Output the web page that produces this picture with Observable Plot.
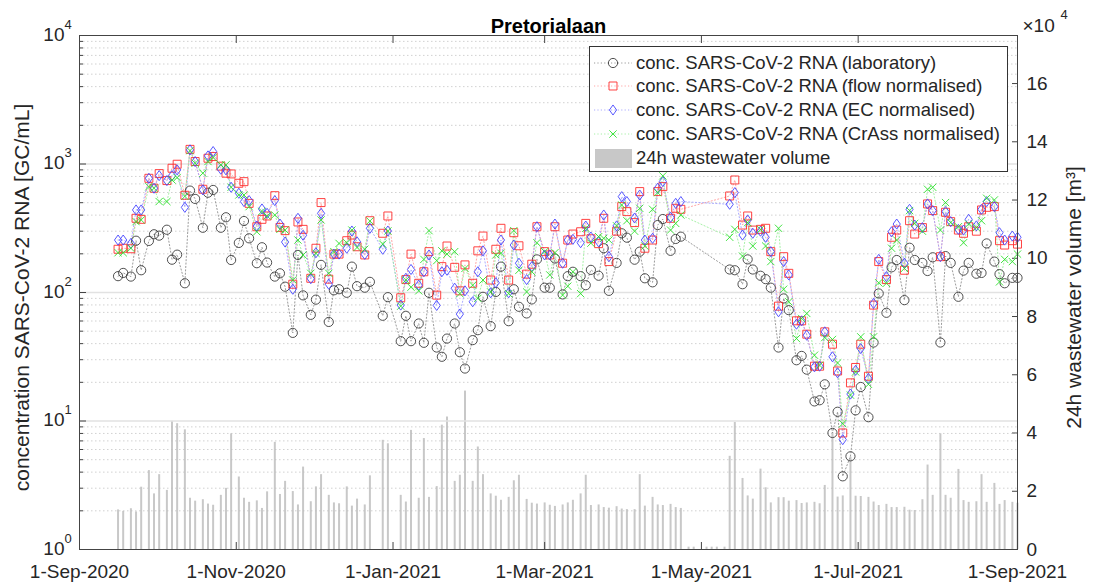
<!DOCTYPE html>
<html>
<head>
<meta charset="utf-8">
<script src="https://cdn.jsdelivr.net/npm/d3@7"></script>
<script src="https://cdn.jsdelivr.net/npm/@observablehq/plot@0.6"></script>
<style>
  html,body{margin:0;padding:0;background:#fff;}
  #chart{position:relative;width:1093px;height:584px;overflow:hidden;font-family:"Liberation Sans",Arial,Helvetica,sans-serif;color:#262626;}
  #chart > svg{position:absolute;left:0;top:0;}
  #legend{position:absolute;left:589px;top:46px;width:417px;height:124px;background:#fff;border:1px solid #333;font-size:18.5px;}
  .row{position:absolute;left:0;height:24px;display:flex;align-items:center;white-space:nowrap;}
  .row svg{display:block;margin-left:3px;margin-right:3px;}
</style>
</head>
<body>
<div id="chart"></div>
<script>
// ---------- data ----------
const dates = [
"2020-09-16","2020-09-18","2020-09-21","2020-09-23","2020-09-25","2020-09-28","2020-09-30",
"2020-10-02","2020-10-05","2020-10-07","2020-10-09","2020-10-12","2020-10-14","2020-10-16","2020-10-19","2020-10-21","2020-10-23","2020-10-26","2020-10-28","2020-10-30",
"2020-11-02","2020-11-04","2020-11-06","2020-11-09","2020-11-11","2020-11-13","2020-11-16","2020-11-18","2020-11-20","2020-11-23","2020-11-25","2020-11-27","2020-11-30",
"2020-12-02","2020-12-04","2020-12-07","2020-12-09","2020-12-11","2020-12-14","2020-12-16","2020-12-18","2020-12-21","2020-12-23","2020-12-28","2020-12-30",
"2021-01-04","2021-01-06","2021-01-08","2021-01-11","2021-01-13","2021-01-15","2021-01-18","2021-01-20","2021-01-22","2021-01-25","2021-01-27","2021-01-29",
"2021-02-01","2021-02-03","2021-02-05","2021-02-08","2021-02-10","2021-02-12","2021-02-15","2021-02-17","2021-02-19","2021-02-22","2021-02-24","2021-02-26",
"2021-03-01","2021-03-03","2021-03-05","2021-03-08","2021-03-10","2021-03-12","2021-03-15","2021-03-17","2021-03-19","2021-03-22","2021-03-24","2021-03-26","2021-03-29","2021-03-31",
"2021-04-02","2021-04-05","2021-04-07","2021-04-09","2021-04-12","2021-04-14","2021-04-16","2021-04-19","2021-04-21","2021-04-23","2021-04-26","2021-04-28",
"2021-05-03","2021-05-05","2021-05-07","2021-05-10","2021-05-12","2021-05-14","2021-05-17","2021-05-19","2021-05-21","2021-05-24","2021-05-26","2021-05-28","2021-05-31",
"2021-06-02","2021-06-04","2021-06-07","2021-06-09","2021-06-11","2021-06-14","2021-06-16","2021-06-18","2021-06-21","2021-06-23","2021-06-25","2021-06-28","2021-06-30",
"2021-07-02","2021-07-05","2021-07-07","2021-07-09","2021-07-12","2021-07-14","2021-07-16","2021-07-19","2021-07-21","2021-07-23","2021-07-26","2021-07-28","2021-07-30",
"2021-08-02","2021-08-04","2021-08-06","2021-08-09","2021-08-11","2021-08-13","2021-08-16","2021-08-18","2021-08-20","2021-08-23","2021-08-25","2021-08-27","2021-08-30","2021-09-01"
];
// 24h wastewater volume, x10^4 m3
const volume = [
1.36,1.31,1.40,1.29,2.14,2.71,1.91,
2.57,2.03,4.40,4.32,4.11,1.76,1.66,1.71,1.56,1.52,1.86,2.10,3.97,
2.49,1.76,1.62,1.67,1.41,1.98,3.68,1.89,2.34,1.99,1.53,2.83,1.64,
2.15,2.57,1.86,1.60,1.57,2.15,1.49,1.73,1.53,2.53,3.75,3.63,
1.86,1.63,4.09,1.76,3.81,1.79,2.16,4.27,4.55,2.34,2.55,5.44,
2.34,3.52,2.57,1.91,1.83,1.69,1.79,2.36,2.55,1.72,1.59,1.56,
1.60,1.52,1.48,1.53,1.60,1.69,1.91,2.55,1.51,1.53,1.44,1.42,1.47,1.39,
1.37,1.37,2.57,1.49,1.79,1.53,1.51,1.55,1.44,1.41,0.08,0.08,
0.08,0.08,0.08,0.08,3.20,4.36,2.44,1.84,1.73,2.76,2.12,1.60,1.78,
1.78,1.66,1.68,1.58,1.60,1.62,1.57,2.20,4.00,1.80,1.84,3.17,1.83,
1.82,1.79,1.63,1.51,1.55,1.44,1.44,1.45,1.35,1.34,1.71,2.90,1.86,
3.97,1.86,1.76,2.75,1.68,1.62,1.64,2.57,1.62,2.27,1.55,1.68,1.62,1.59
];
// concentration, GC/mL
const labConc = [
134,142,133,253,149,252,284,
277,308,180,197,118,621,535,319,598,628,319,385,179,
243,360,264,169,225,171,133,141,111,48.5,196,95,67,
88,164,59,104,106,99.5,159,112,109,121,65.9,92,
41.8,65.9,41.8,57.4,40.6,99.5,37.3,31.6,43.8,57.4,34.3,25.6,
42.6,50.9,92.6,54.7,101,159,59.8,106,77.4,68.7,88.3,181,
109,109,184,96.6,134,145,134,114,150,135,221,103,170,289,
267,180,208,129,120,335,373,211,261,272,null,null,
null,null,null,null,151,149,116,181,151,135,127,109,37.3,
89.9,72.9,29.7,32.1,25.1,14.2,14.5,19.3,8.07,11.8,3.71,5.31,12.1,
18.4,10.7,40.8,98.3,69.5,157,179,87.2,223,179,170,147,188,
40.8,192,170,92.6,148,170,140,142,241,174,139,118,130,130
];
const flowConc = [
217,221,219,378,371,774,648,
842,743,927,996,571,1300,1045,636,1109,1143,962,848,837,
708,729,494,325,371,394,567,321,303,116,354,310,129,
221,501,127,199,199,253,280,227,196,362,289,394,
91,126,199,118,145,208,95.4,159,230,157,103,164,
118,211,275,125,217,316,125,292,231,139,166,325,
208,196,325,169,256,285,297,345,262,240,378,174,300,466,
426,350,610,221,256,610,667,378,452,444,null,null,
null,null,null,null,564,751,335,394,306,310,316,208,78.3,
190,141,60.2,60.2,47.4,26.7,26.7,49.4,39.6,24.5,8.07,19.8,26.1,
39.6,22.3,79.8,174,126,269,306,149,362,285,320,489,434,
190,421,356,306,289,325,300,439,460,466,253,234,253,238
];
const ecConc = [
256,256,241,439,439,774,648,
812,743,812,900,460,1288,1045,629,1156,1250,911,900,659,
592,510,519,329,447,413,519,341,247,106,378,279,128,
204,413,116,199,199,221,301,248,198,316,217,301,
79.8,129,151,114,145,196,79.3,145,149,108,67.9,103,
84.7,145,211,99.5,119,256,99.5,234,169,126,159,325,
196,196,341,169,256,259,244,329,270,248,401,190,330,557,
510,380,574,256,264,648,730,385,494,510,null,null,
null,null,null,null,486,599,280,367,289,300,269,208,70.8,
174,137,56.7,60.2,46.5,26.4,26.7,49.4,31.6,23.7,7.16,16.2,24.8,
36.6,21.4,82.2,181,133,297,341,169,444,335,320,489,434,
190,426,356,310,306,371,330,444,510,466,292,256,275,269
];
const crassConc = [
204,204,221,356,367,666,648,
510,510,751,784,560,1270,1014,848,1045,1122,984,984,659,
574,574,466,297,428,394,401,310,306,125,256,196,141,
202,367,141,208,241,244,306,224,217,360,238,301,
78.3,125,110,103,181,303,177,211,199,208,98,154,
114,90,125,101,196,202,98,303,149,101,145,244,
208,137,204,95.4,112,145,98,316,242,272,264,256,330,480,
362,300,452,230,444,599,808,306,345,401,null,null,
null,null,null,null,269,310,192,350,230,310,230,174,316,
106,84.7,43.8,62.8,68.7,32.5,27.2,44.6,43.1,28.3,9.54,15.9,24.1,
45.2,19.3,45.2,119,118,221,256,154,434,345,300,636,659,
306,501,350,325,244,341,320,362,541,525,121,181,174,199
];

// ---------- axes / labels ----------
const xTicks = ["2020-09-01","2020-11-01","2021-01-01","2021-03-01","2021-05-01","2021-07-01","2021-09-01"];
const xTickLabels = ["1-Sep-2020","1-Nov-2020","1-Jan-2021","1-Mar-2021","1-May-2021","1-Jul-2021","1-Sep-2021"];
const leftTicks = [1,10,100,1000,10000];
const leftTickBase = "10";
const leftTickExponents = ["0","1","2","3","4"];
const minorTicks = [2,3,4,5,6,7,8,9,20,30,40,50,60,70,80,90,200,300,400,500,600,700,800,900,2000,3000,4000,5000,6000,7000,8000,9000];
const majorGrid = [10,100,1000];
const rightTicks = [0,2,4,6,8,10,12,14,16];
const rightMax = 17.65;
const rightMultiplier = "\u00D710";
const rightMultiplierExp = "4";
const titleText = "Pretorialaan";
const leftLabel = "concentration SARS-CoV-2 RNA [GC/mL]";
const rightLabel = "24h wastewater volume [m\u00B3]";
const seriesNames = [
  "conc. SARS-CoV-2 RNA (laboratory)",
  "conc. SARS-CoV-2 RNA (flow normalised)",
  "conc. SARS-CoV-2 RNA (EC normalised)",
  "conc. SARS-CoV-2 RNA (CrAss normalised)"
];
const volumeName = "24h wastewater volume";

// ---------- build ----------
const utc = s => new Date(s + "T00:00:00Z");
const rows = dates.map((d, i) => ({date: utc(d), volume: volume[i], lab: labConc[i], flow: flowConc[i], ec: ecConc[i], crass: crassConc[i]}));
const xDomain = [utc("2020-09-01"), utc("2021-09-01")];
const xTickDates = xTicks.map(utc);
const xLabelMap = new Map(xTickDates.map((d, i) => [+d, xTickLabels[i]]));
const expMap = new Map(leftTicks.map((d, i) => [d, leftTickExponents[i]]));

const tallDiamond = {
  draw(ctx, size) {
    const r = Math.sqrt(size / Math.PI), h = r * 1.12, w = r * 0.8;
    ctx.moveTo(0, -h); ctx.lineTo(w, 0); ctx.lineTo(0, h); ctx.lineTo(-w, 0); ctx.closePath();
  }
};
const styles = [
  {key: "lab",   marker: "#3c3c3c", line: "#8f8f8f", symbol: "circle", r: 4.6},
  {key: "flow",  marker: "#ff2e2e", line: "#ff9c9c", symbol: "square", r: 4.5},
  {key: "ec",    marker: "#4646ff", line: "#a2a2ff", symbol: tallDiamond, r: 4.5},
  {key: "crass", marker: "#2ee02e", line: "#9cee9c", symbol: "times", r: 3.4}
];

const W = 1093, H = 584;
const margins = {marginTop: 35, marginBottom: 35, marginLeft: 79, marginRight: 76};
const font = '"Liberation Sans", Arial, Helvetica, sans-serif';
const style = {fontFamily: font, fontSize: "19px", color: "#262626", background: "transparent", overflow: "visible"};

const barsPlot = Plot.plot({
  width: W, height: H, ...margins, style,
  x: {type: "utc", domain: xDomain, axis: null},
  y: {domain: [0, rightMax]},
  marks: [
    Plot.ruleX(rows, {x: "date", y1: 0, y2: "volume", stroke: "#c8c8c8", strokeWidth: 2}),
    Plot.axisY(rightTicks, {anchor: "right", tickSize: -6, tickPadding: 15, stroke: "#444", label: null, fontSize: 19})
  ]
});

const lineMarks = styles.map(s => Plot.line(rows.filter(d => d[s.key] != null), {
  x: "date", y: s.key, stroke: s.line, strokeWidth: 0.9, strokeDasharray: "1.2,2.2"
}));
const dotMarks = styles.map(s => Plot.dot(rows.filter(d => d[s.key] != null), {
  x: "date", y: s.key, symbol: s.symbol, r: s.r, stroke: s.marker, strokeWidth: 0.9, fill: "none"
}));

const concPlot = Plot.plot({
  width: W, height: H, ...margins, style,
  x: {type: "utc", domain: xDomain},
  y: {type: "log", domain: [1, 10000]},
  marks: [
    Plot.ruleY(minorTicks, {stroke: "#bdbdbd", strokeWidth: 0.7, strokeDasharray: "1.5,2.5"}),
    Plot.ruleY(majorGrid, {stroke: "#e2e2e2", strokeWidth: 1.6}),
    ...lineMarks,
    ...dotMarks,
    Plot.frame({stroke: "#444", strokeWidth: 1}),
    Plot.axisY(leftTicks, {anchor: "left", tickSize: -7, stroke: "#444", tickFormat: () => "", label: null}),
    Plot.text(leftTicks, {y: d => d, text: () => leftTickBase, frameAnchor: "left", dx: -15, dy: -1, textAnchor: "end", fontSize: 19, fill: "#262626"}),
    Plot.text(leftTicks, {y: d => d, text: d => expMap.get(d), frameAnchor: "left", dx: -15, dy: -11, textAnchor: "start", fontSize: 13, fill: "#262626"}),
    Plot.axisY(minorTicks, {anchor: "left", tickSize: -4, stroke: "#444", tickFormat: () => "", label: null}),
    Plot.axisX(xTickDates, {anchor: "bottom", tickSize: -7, tickPadding: 22, stroke: "#444", tickFormat: d => xLabelMap.get(+d), label: null, fontSize: 19}),
    Plot.axisX(xTickDates, {anchor: "top", tickSize: -7, stroke: "#444", tickFormat: () => "", label: null}),
    Plot.text([titleText], {text: d => d, frameAnchor: "top", dy: -17, fontWeight: "bold", fontSize: 20, fill: "#000"}),
    Plot.text([leftLabel], {text: d => d, frameAnchor: "left", dx: -57, dy: 5, rotate: -90, textAnchor: "middle", fontSize: 21, fill: "#262626"}),
    Plot.text([rightLabel], {text: d => d, frameAnchor: "right", dx: 57, dy: 5, rotate: -90, textAnchor: "middle", fontSize: 21, fill: "#262626"}),
    Plot.text([rightMultiplier], {text: d => d, frameAnchor: "top-right", dx: 5, dy: -17, textAnchor: "start", fontSize: 19, fill: "#262626"}),
    Plot.text([rightMultiplierExp], {text: d => d, frameAnchor: "top-right", dx: 43, dy: -26, textAnchor: "start", fontSize: 13, fill: "#262626"})
  ]
});

const chart = document.getElementById("chart");
chart.appendChild(barsPlot);
chart.appendChild(concPlot);

// ---------- legend ----------
const legend = document.createElement("div");
legend.id = "legend";
chart.appendChild(legend);
const rowCenters = [17, 40, 64, 88, 112];
styles.forEach((s, i) => {
  const row = document.createElement("div");
  row.className = "row";
  row.style.top = (rowCenters[i] - 13) + "px";
  const svg = d3.create("svg").attr("width", 40).attr("height", 24);
  svg.append("line").attr("x1", 1).attr("x2", 39).attr("y1", 12).attr("y2", 12)
    .attr("stroke", s.line).attr("stroke-width", 0.9).attr("stroke-dasharray", "1.2,2.2");
  const symType = s.symbol === "circle" ? d3.symbolCircle : s.symbol === "square" ? d3.symbolSquare : s.symbol === "times" ? d3.symbolTimes : tallDiamond;
  svg.append("path").attr("transform", "translate(20,12)")
    .attr("d", d3.symbol(symType, s.r * s.r * Math.PI)())
    .attr("fill", "none").attr("stroke", s.marker).attr("stroke-width", 0.9);
  row.appendChild(svg.node());
  const span = document.createElement("span");
  span.textContent = seriesNames[i];
  row.appendChild(span);
  legend.appendChild(row);
});
{
  const row = document.createElement("div");
  row.className = "row";
  row.style.top = (rowCenters[4] - 13) + "px";
  const svg = d3.create("svg").attr("width", 40).attr("height", 24);
  svg.append("rect").attr("x", 2).attr("y", 3).attr("width", 37).attr("height", 19).attr("fill", "#c8c8c8");
  row.appendChild(svg.node());
  const span = document.createElement("span");
  span.textContent = volumeName;
  row.appendChild(span);
  legend.appendChild(row);
}
</script>
</body>
</html>
